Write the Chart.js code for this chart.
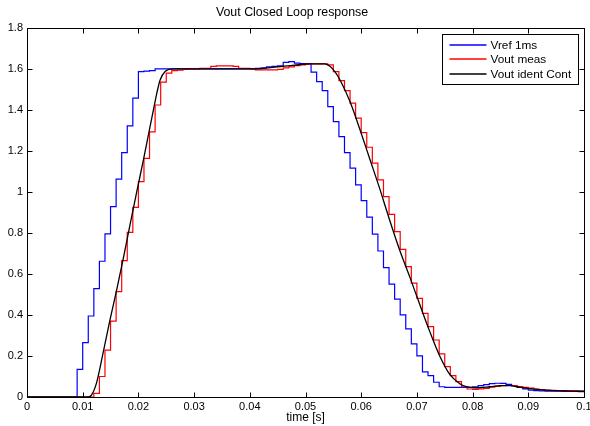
<!DOCTYPE html>
<html>
<head>
<meta charset="utf-8">
<script src="https://cdn.jsdelivr.net/npm/chart.js@4"></script>
<style>
    html, body { margin: 0; padding: 0; background: #fff; }
</style>
</head>
<body>
<canvas id="respChart" width="590" height="426"></canvas>
<script>
// tick values (seconds / volts)
const xTickValues = [0, 0.01, 0.02, 0.03, 0.04, 0.05, 0.06, 0.07, 0.08, 0.09, 0.1];
const yTickValues = [0, 0.2, 0.4, 0.6, 0.8, 1, 1.2, 1.4, 1.6, 1.8];

// Vref 1ms: sample time in ms where the held value changes, and the value
const blueMs = [0, 9, 10, 11, 12, 13, 14, 15, 16, 17, 18, 19, 20, 21, 22, 23,
    41, 42, 43, 44, 45, 46, 47, 48, 49, 51, 52, 53, 54, 55, 56, 57, 58, 59, 60,
    61, 62, 63, 64, 65, 66, 67, 68, 69, 70, 71, 72, 73, 74, 75, 80, 81, 82, 83,
    84, 85, 86, 87, 88, 89, 90, 91, 92, 93, 96, 99, 100];
const blueV = [0, 0.135, 0.265, 0.395, 0.528, 0.662, 0.795, 0.928, 1.062, 1.192, 1.322, 1.457, 1.587, 1.589, 1.592, 1.600,
    1.603, 1.605, 1.610, 1.612, 1.615, 1.632, 1.635, 1.628, 1.626, 1.584, 1.538, 1.494, 1.416, 1.343, 1.270, 1.192, 1.116, 1.034, 0.958,
    0.877, 0.794, 0.712, 0.631, 0.550, 0.477, 0.400, 0.332, 0.259, 0.201, 0.123, 0.104, 0.072, 0.050, 0.047, 0.050, 0.055, 0.060, 0.065,
    0.067, 0.066, 0.062, 0.055, 0.047, 0.040, 0.034, 0.031, 0.030, 0.028, 0.027, 0.026, 0.026];

// Vout meas
const redMs = [0, 12, 13, 14, 15, 16, 17, 18, 19, 20, 21, 22, 23, 24, 25, 26, 27, 28, 29, 31, 33, 34, 37, 38, 40, 41,
    45, 46, 47, 48, 49, 50, 51, 54, 55, 56, 57, 58, 59, 60, 61, 62, 63, 64, 65, 66, 67, 68, 69, 70,
    71, 72, 73, 74, 75, 76, 77, 78, 79, 80, 81, 82, 83, 84, 85, 86, 87, 88, 89, 90, 91, 92, 93, 94, 95, 97, 99, 100];
const redV = [0, 0.018, 0.100, 0.229, 0.370, 0.514, 0.665, 0.803, 0.925, 1.050, 1.164, 1.293, 1.424, 1.535, 1.579, 1.592, 1.594, 1.597, 1.600, 1.603, 1.612, 1.615, 1.612, 1.603, 1.600, 1.595,
    1.598, 1.605, 1.610, 1.616, 1.620, 1.623, 1.624, 1.620, 1.587, 1.543, 1.494, 1.433, 1.360, 1.289, 1.218, 1.140, 1.059, 0.977, 0.891, 0.806, 0.720, 0.636, 0.555, 0.481,
    0.408, 0.343, 0.278, 0.210, 0.148, 0.104, 0.075, 0.050, 0.039, 0.037, 0.040, 0.042, 0.048, 0.052, 0.055, 0.056, 0.055, 0.051, 0.047, 0.043, 0.039, 0.036, 0.034, 0.032, 0.031, 0.030, 0.029, 0.029];

// Vout ident Cont (continuous model)
const blackMs = [0, 11.0, 11.6, 12.5, 13.7, 14.9, 16.1, 17.3, 18.5, 19.7, 20.9, 22.1, 22.7, 23.3, 23.9, 24.8, 26.3,
    41, 45, 48, 50.8, 53.5, 54.5, 55.3, 56.2, 58.0, 59.8, 61.6, 63.4, 65.1, 66.9, 68.7, 70.5, 72.3, 74.1,
    75.9, 77.7, 78.9, 80.4, 83.1, 84.9, 86.7, 88.4, 91.1, 93.8, 100];
const blackV = [0, 0, 0.01, 0.07, 0.22, 0.376, 0.522, 0.677, 0.84, 1.0, 1.156, 1.32, 1.40, 1.481, 1.546, 1.587, 1.600,
    1.600, 1.610, 1.618, 1.624, 1.624, 1.610, 1.585, 1.546, 1.440, 1.302, 1.156, 1.010, 0.863, 0.717, 0.587, 0.452, 0.320, 0.200,
    0.110, 0.065, 0.050, 0.045, 0.050, 0.055, 0.055, 0.048, 0.038, 0.032, 0.028];

const seriesLabels = ['Vref 1ms', 'Vout meas', 'Vout ident Cont'];
const seriesColors = ['#0000ff', '#ff0000', '#000000'];

function toPoints(ms, vals) {
    return ms.map((t, i) => ({ x: t / 1000, y: vals[i] }));
}

// box + inward ticks like a matlab axes
const matlabFrame = {
    id: 'matlabFrame',
    afterDatasetsDraw(chart) {
        const { ctx, chartArea: a, scales } = chart;
        const left = Math.round(a.left) + 0.5, right = Math.round(a.right) + 0.5;
        const top = Math.round(a.top) + 0.5, bottom = Math.round(a.bottom) + 0.5;
        ctx.save();
        ctx.strokeStyle = '#000';
        ctx.lineWidth = 1;
        ctx.beginPath();
        scales.x.ticks.forEach(t => {
            const px = Math.round(scales.x.getPixelForValue(t.value)) + 0.5;
            ctx.moveTo(px, bottom); ctx.lineTo(px, bottom - 5);
            ctx.moveTo(px, top); ctx.lineTo(px, top + 5);
        });
        scales.y.ticks.forEach(t => {
            const py = Math.round(scales.y.getPixelForValue(t.value)) + 0.5;
            ctx.moveTo(left, py); ctx.lineTo(left + 5, py);
            ctx.moveTo(right, py); ctx.lineTo(right - 5, py);
        });
        ctx.stroke();
        ctx.strokeRect(left, top, right - left, bottom - top);
        ctx.restore();
    }
};

// legend box in the top right corner of the axes
const boxLegend = {
    id: 'boxLegend',
    afterDraw(chart) {
        const { ctx, chartArea: a } = chart;
        const w = 136, h = 50;
        const bx = Math.round(a.right) - 6 - w + 0.5;
        const by = Math.round(a.top) + 6 + 0.5;
        ctx.save();
        ctx.fillStyle = '#fff';
        ctx.fillRect(bx, by, w, h);
        ctx.strokeStyle = '#000';
        ctx.lineWidth = 1;
        ctx.strokeRect(bx, by, w, h);
        ctx.font = '11.8px "Liberation Sans", Arial, sans-serif';
        ctx.textBaseline = 'middle';
        chart.data.datasets.forEach((ds, i) => {
            const y = Math.round(by + 10 + i * 14.8);
            ctx.strokeStyle = seriesColors[i];
            ctx.lineWidth = 1.6;
            ctx.beginPath();
            ctx.moveTo(bx + 7, y);
            ctx.lineTo(bx + 44, y);
            ctx.stroke();
            ctx.fillStyle = '#000';
            ctx.fillText(ds.label, bx + 48, y + 0.5);
        });
        ctx.restore();
    }
};

Chart.defaults.font.family = '"Liberation Sans", Arial, sans-serif';
Chart.defaults.color = '#000';

const ctx = document.getElementById('respChart').getContext('2d');
const respChart = new Chart(ctx, {
    type: 'line',
    data: {
        datasets: [{
            label: seriesLabels[0],
            data: toPoints(blueMs, blueV),
            borderColor: seriesColors[0],
            borderWidth: 1.2,
            stepped: true,
            pointRadius: 0,
            order: 2
        }, {
            label: seriesLabels[1],
            data: toPoints(redMs, redV),
            borderColor: seriesColors[1],
            borderWidth: 1.2,
            stepped: true,
            pointRadius: 0,
            order: 1
        }, {
            label: seriesLabels[2],
            data: toPoints(blackMs, blackV),
            borderColor: seriesColors[2],
            borderWidth: 1.3,
            cubicInterpolationMode: 'monotone',
            pointRadius: 0,
            order: 0
        }]
    },
    options: {
        responsive: false,
        animation: false,
        devicePixelRatio: 1,
        layout: { padding: { left: 0, right: 6, top: 0, bottom: 0 } },
        plugins: {
            legend: { display: false },
            tooltip: { enabled: false },
            title: {
                display: true,
                text: 'Vout Closed Loop response',
                font: { size: 12.4, weight: 'normal' },
                color: '#000',
                padding: { top: 5, bottom: 8 }
            }
        },
        scales: {
            x: {
                type: 'linear',
                min: 0,
                max: 0.1,
                afterBuildTicks: scale => { scale.ticks = xTickValues.map(v => ({ value: v })); },
                afterFit: scale => {
                    scale.height = 29;
                    scale.paddingLeft = 0;
                    scale.paddingRight = 0;
                },
                grid: { display: false, drawTicks: false },
                border: { display: false },
                ticks: {
                    autoSkip: false,
                    maxRotation: 0,
                    padding: 3,
                    font: { size: 11 },
                    callback: v => String(+v.toFixed(3))
                },
                title: {
                    display: true,
                    text: 'time [s]',
                    font: { size: 12 },
                    padding: { top: 0, bottom: 1 }
                }
            },
            y: {
                min: 0,
                max: 1.8,
                afterBuildTicks: scale => { scale.ticks = yTickValues.map(v => ({ value: v })); },
                afterFit: scale => { scale.width = 27; },
                grid: { display: false, drawTicks: false },
                border: { display: false },
                ticks: {
                    padding: 4,
                    font: { size: 11 },
                    callback: v => String(+v.toFixed(2))
                }
            }
        }
    },
    plugins: [matlabFrame, boxLegend]
});
</script>
</body>
</html>
